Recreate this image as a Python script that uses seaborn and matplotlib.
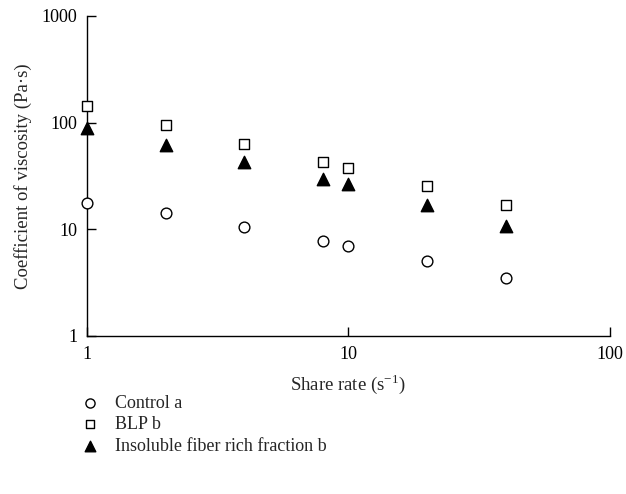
import pandas as pd
import numpy as np
import matplotlib
matplotlib.use('Agg')
import matplotlib.pyplot as plt
import seaborn as sns
from matplotlib.ticker import FixedLocator, NullLocator, FixedFormatter

# data
shear_rate = [1, 2, 4, 8, 10, 20, 40]
control = [17.5, 14.1, 10.4, 7.7, 6.9, 5.0, 3.5]
blp = [143, 95, 63, 42.6, 37.4, 25.3, 16.8]
insoluble = [88, 61.5, 42.6, 29.5, 26.4, 16.8, 10.7]
series_names = ['Control a', 'BLP b', 'Insoluble fiber rich fraction b']
x_ticks = [1, 10, 100]
y_ticks = [1, 10, 100, 1000]

sns.set_style('ticks')
plt.rcParams['font.family'] = ['Liberation Serif', 'DejaVu Serif']
plt.rcParams['mathtext.fontset'] = 'custom'
plt.rcParams['mathtext.rm'] = 'Liberation Serif'

df = pd.DataFrame({
    'rate': shear_rate * 3,
    'visc': control + blp + insoluble,
    'group': [series_names[0]] * 7 + [series_names[1]] * 7 + [series_names[2]] * 7,
})

fig = plt.figure(figsize=(6.26, 4.94), dpi=100)
ax = fig.add_axes([0.139, 0.320, 0.835, 0.648])

styles = {
    series_names[0]: dict(marker='o', color='white', edgecolor='black', s=60),
    series_names[1]: dict(marker='s', color='white', edgecolor='black', s=50),
    series_names[2]: dict(marker='^', color='black', edgecolor='black', s=80),
}
for name in series_names:
    sub = df[df['group'] == name]
    sns.scatterplot(data=sub, x='rate', y='visc', ax=ax, label=name,
                    linewidth=1.0, zorder=3, clip_on=False, **styles[name])

ax.set_xscale('log')
ax.set_yscale('log')
ax.set_xlim(1, 100)
ax.set_ylim(1, 1000)
ax.xaxis.set_major_locator(FixedLocator(x_ticks))
ax.xaxis.set_major_formatter(FixedFormatter([str(t) for t in x_ticks]))
ax.yaxis.set_major_locator(FixedLocator(y_ticks))
ax.yaxis.set_major_formatter(FixedFormatter([str(t) for t in y_ticks]))
ax.xaxis.set_minor_locator(NullLocator())
ax.yaxis.set_minor_locator(NullLocator())
ax.tick_params(direction='in', length=6.5, width=1.0, labelsize=13, pad=7, colors='black')

sns.despine(ax=ax)
for sp in ['left', 'bottom']:
    ax.spines[sp].set_linewidth(1.0)
    ax.spines[sp].set_color('black')

ax.set_xlabel('Share rate (s$^{-1}$)', fontsize=13.5, labelpad=7)
ax.set_ylabel('Coefficient of viscosity (Pa·s)', fontsize=13.5, labelpad=7)

ax.legend_.remove()
handles, labels = ax.get_legend_handles_labels()
fig.legend(handles, labels, loc='upper left', bbox_to_anchor=(0.123, 0.216),
           frameon=False, fontsize=13, handletextpad=1.1, labelspacing=0.25,
           handlelength=0.6, borderaxespad=0, markerscale=0.85)

fig.savefig('out.png', dpi=100)
